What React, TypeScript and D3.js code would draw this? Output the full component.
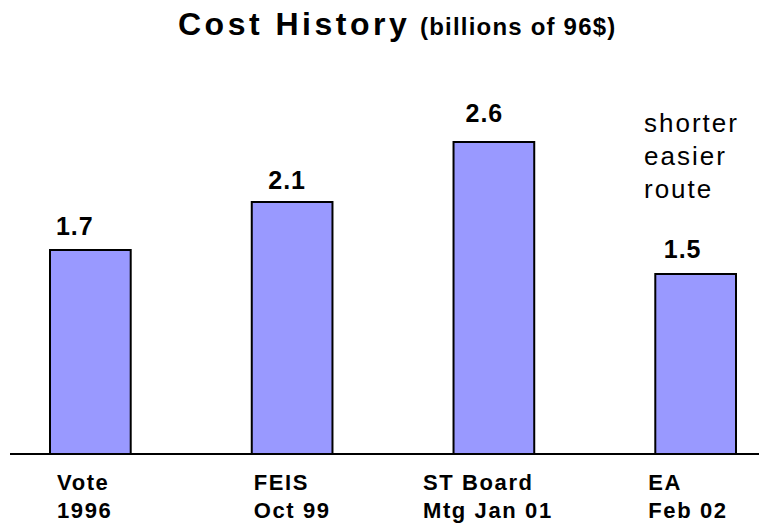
import React from "react";
import * as d3 from "d3";

const categoriesLine1 = ["Vote", "FEIS", "ST Board", "EA"];
const categoriesLine2 = ["1996", "Oct 99", "Mtg Jan 01", "Feb 02"];
const values = [1.7, 2.1, 2.6, 1.5];
const valueLabels = ["1.7", "2.1", "2.6", "1.5"];
const annotationLines = ["shorter", "easier", "route"];

// layout offsets (pixels) relative to each bar
const catLabelDx = [7, 2, -30.5, -7];
const valLabelDx = [-15.5, -5, -9.5, -13];
const valLabelDy = [-15, -13, -20, -16];

const W = 759;
const H = 523;
const FONT = "'Liberation Sans', Arial, Helvetica, sans-serif";

export default function App() {
  const x = d3
    .scaleBand<string>()
    .domain(categoriesLine1)
    .range([50, 736])
    .paddingInner(0.6)
    .paddingOuter(0);
  const y = d3.scaleLinear().domain([0, 3]).range([454, 94]);
  const bw = x.bandwidth();

  return (
    <svg
      width={W}
      height={H}
      style={{ position: "absolute", left: 0, top: 0, background: "#fff" }}
      fontFamily={FONT}
    >
      <rect x={0} y={0} width={W} height={H} fill="#fff" />
      <text x={178} y={35} fill="#000" fontWeight="bold" fontSize={32} letterSpacing={3.5}>
        Cost History
      </text>
      <text x={420} y={35} fill="#000" fontWeight="bold" fontSize={24} letterSpacing={1.2}>
        (billions of 96$)
      </text>

      {categoriesLine1.map((c, i) => {
        const x0 = x(c) as number;
        return (
          <rect
            key={c}
            x={x0}
            y={y(values[i])}
            width={bw}
            height={y(0) - y(values[i])}
            fill="#9999FF"
            stroke="#000"
            strokeWidth={2}
          />
        );
      })}

      <line x1={10} x2={W} y1={y(0)} y2={y(0)} stroke="#000" strokeWidth={2} />

      {categoriesLine1.map((c, i) => {
        const cx = (x(c) as number) + bw / 2;
        return (
          <text
            key={"v" + c}
            x={cx + valLabelDx[i]}
            y={y(values[i]) + valLabelDy[i]}
            textAnchor="middle"
            fontSize={25}
            fontWeight="bold"
            letterSpacing={1}
            fill="#000"
          >
            {valueLabels[i]}
          </text>
        );
      })}

      {categoriesLine1.map((c, i) => {
        const lx = (x(c) as number) + catLabelDx[i];
        return (
          <text
            key={"c" + c}
            x={lx}
            fontSize={22}
            fontWeight="bold"
            letterSpacing={1.6}
            fill="#000"
          >
            <tspan x={lx} y={490}>
              {c}
            </tspan>
            <tspan x={lx} y={518}>
              {categoriesLine2[i]}
            </tspan>
          </text>
        );
      })}

      <text x={644} fontSize={26} letterSpacing={2} fill="#000">
        {annotationLines.map((l, i) => (
          <tspan key={l} x={644} y={132 + i * 33}>
            {l}
          </tspan>
        ))}
      </text>
    </svg>
  );
}
